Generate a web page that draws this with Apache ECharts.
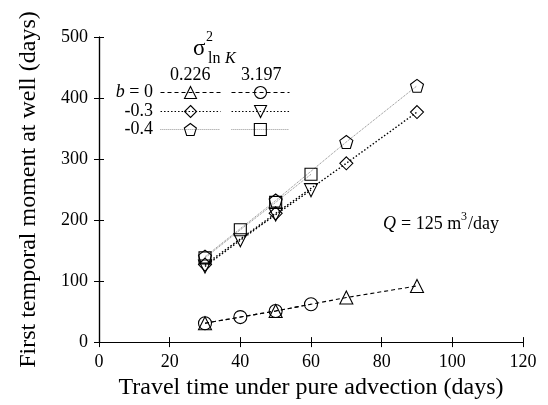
<!DOCTYPE html>
<html>
<head>
<meta charset="utf-8">
<script src="https://cdn.jsdelivr.net/npm/echarts@6/dist/echarts.min.js"></script>
<style>
  html, body { margin: 0; padding: 0; background: #fff; }
  #chart { width: 548px; height: 405px; }
</style>
</head>
<body>
<div id="chart"></div>
<script>
// travel times (days): low-variance runs go to 90, high-variance runs to 60
const xLow = [30, 50, 70, 90];
const xHigh = [30, 40, 50, 60];
// first temporal moment (days)
const b0Low = [31, 51, 73, 92];
const b0High = [31, 41, 51, 62];
const b03Low = [127, 211, 293, 377];
const b03High = [124, 167, 209, 249];
const b04Low = [140, 232, 328, 420];
const b04High = [138, 184, 229, 275];
const xTicks = [0, 20, 40, 60, 80, 100, 120];
const yTicks = [0, 100, 200, 300, 400, 500];

const FONT = "Liberation Serif";
const PENTAGON = "path://M5,0 L10,3.8 L8.1,10 L1.9,10 L0,3.8 Z";
const INV_TRI = "path://M0,0 L10,0 L5,8.66 Z";
const pairs = (xs, ys) => xs.map((x, i) => [x, ys[i]]);

const LINE = {
  b0: { color: "#000", width: 1.1, type: [4, 3] },
  b03: { color: "#000", width: 1.4, type: [1.5, 2] },
  b04: { color: "#666", width: 0.8, type: [1, 1] },
};
function mk(name, xs, ys, symbol, ls, size) {
  return {
    name, type: "line", data: pairs(xs, ys), symbol, symbolSize: size || 13,
    lineStyle: ls, color: "#000",
    itemStyle: { color: "transparent", borderColor: "#000", borderWidth: 1.1 },
    emphasis: { disabled: true }, animation: false, z: 3,
  };
}
const series = [
  mk("s1", xLow, b0Low, "triangle", LINE.b0, 13),
  mk("s2", xHigh, b0High, "circle", LINE.b0, 13),
  mk("s3", xLow, b03Low, "diamond", LINE.b03, 13),
  mk("s4", xHigh, b03High, INV_TRI, LINE.b03, 13),
  mk("s5", xLow, b04Low, PENTAGON, LINE.b04, 13),
  mk("s6", xHigh, b04High, "rect", LINE.b04, 12),
];

// one legend per cell of the little table
const cellX = [160, 231], rowY = [85, 104, 122];
const legends = series.map((s, i) => ({
  data: [s.name], left: cellX[i % 2], top: rowY[Math.floor(i / 2)],
  itemWidth: i % 2 ? 58 : 60, itemHeight: 15, padding: 0, formatter: () => "",
  textStyle: { fontSize: 1 }, selectedMode: false,
  lineStyle: { width: i < 2 ? 1 : i < 4 ? 1.1 : 0.7 },
  itemStyle: { color: "transparent", borderColor: "#000", borderWidth: 1.1 },
}));

const txt = (left, top, text, size, extra) => ({
  type: "text", left, top,
  style: Object.assign({ text, font: `${size}px "${FONT}"`, fill: "#000" }, extra || {}),
});

const axisCommon = {
  axisLine: { show: true, lineStyle: { color: "#000", width: 1.2 } },
  axisTick: { show: true, inside: true, length: 5, lineStyle: { color: "#000" } },
  splitLine: { show: false },
};

const chart = echarts.init(document.getElementById("chart"));
chart.setOption({
  animation: false,
  grid: { left: 99, right: 25, top: 37, bottom: 62 },
  xAxis: [
    Object.assign({
      type: "value", min: 0, max: 120, interval: 20,
      name: "Travel time under pure advection (days)", nameLocation: "middle", nameGap: 32,
      nameTextStyle: { fontFamily: FONT, fontSize: 24, color: "#000" },
      axisLabel: { fontFamily: FONT, fontSize: 18, color: "#000", margin: 11,
        formatter: (v) => (xTicks.includes(v) ? String(v) : "") },
    }, axisCommon),
    Object.assign({ type: "value", position: "top", min: 0, max: 120, interval: 20, axisLabel: { show: false } }, axisCommon),
  ],
  yAxis: [
    Object.assign({
      type: "value", min: 0, max: 500, interval: 100,
      name: "First temporal moment at well (days)", nameLocation: "middle", nameGap: 58,
      nameTextStyle: { fontFamily: FONT, fontSize: 24, color: "#000" },
      axisLabel: { fontFamily: FONT, fontSize: 18, color: "#000", margin: 11,
        formatter: (v) => (yTicks.includes(v) ? String(v) : "") },
    }, axisCommon),
    Object.assign({ type: "value", position: "right", min: 0, max: 500, interval: 100, axisLabel: { show: false } }, axisCommon),
  ],
  legend: legends,
  series,
  graphic: [
    txt(193, 37, "σ", 23),
    txt(206, 30, "2", 14),
    txt(208, 51, "ln ", 16),
    txt(225, 51, "K", 16, { font: `italic 16px "${FONT}"` }),
    txt(170, 66, "0.226", 18),
    txt(241, 66, "3.197", 18),
    {
      type: "text", right: 548 - 153, top: 83,
      style: {
        text: "{i|b} = 0", fill: "#000", font: `18px "${FONT}"`,
        rich: { i: { fontFamily: FONT, fontSize: 18, fontStyle: "italic" } },
      },
    },
    { type: "text", right: 548 - 153, top: 102, style: { text: "-0.3", font: `18px "${FONT}"`, fill: "#000" } },
    { type: "text", right: 548 - 153, top: 120, style: { text: "-0.4", font: `18px "${FONT}"`, fill: "#000" } },
    txt(383, 215, "Q", 18, { font: `italic 18px "${FONT}"` }),
    txt(401, 215, "= 125 m", 18),
    txt(461, 211, "3", 12),
    txt(468, 215, "/day", 18),
  ],
});
</script>
</body>
</html>
